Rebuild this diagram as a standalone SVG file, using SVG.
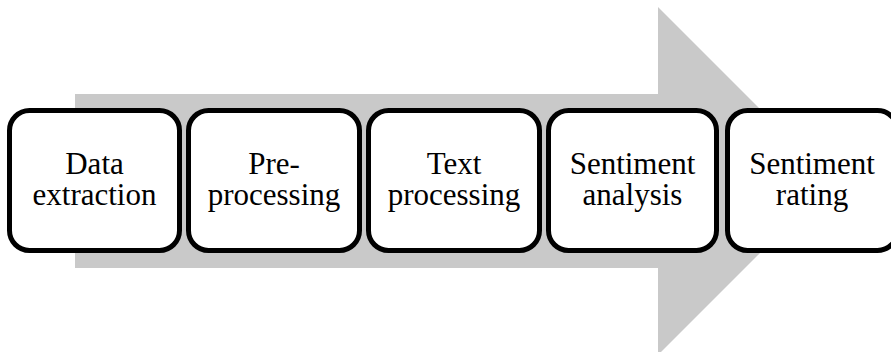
<svg xmlns="http://www.w3.org/2000/svg" width="891" height="352" viewBox="0 0 891 352">
<style>
.box{fill:#fff;stroke:#000;stroke-width:5}
.t{font-family:"Liberation Serif",serif;font-size:31px;fill:#000;text-anchor:middle}
</style>
<rect width="891" height="352" fill="#fff"/>
<g id="arrow">
<path d="M75,94 H658 V7 L832,181 L658,355 V268 H75 Z" fill="#c9c9c9"/>
</g>
<g id="n1"><rect class="box" x="9.5" y="110.5" width="170" height="140" rx="20"/><text class="t" x="94.5" y="174">Data</text><text class="t" x="94.5" y="205">extraction</text></g>
<g id="n2"><rect class="box" x="188.5" y="110.5" width="171" height="140" rx="20"/><text class="t" x="274" y="174">Pre-</text><text class="t" x="274" y="205">processing</text></g>
<g id="n3"><rect class="box" x="368.5" y="110.5" width="171" height="140" rx="20"/><text class="t" x="454" y="174">Text</text><text class="t" x="454" y="205">processing</text></g>
<g id="n4"><rect class="box" x="548.5" y="110.5" width="168" height="140" rx="20"/><text class="t" x="632.5" y="174">Sentiment</text><text class="t" x="632.5" y="205">analysis</text></g>
<g id="n5"><rect class="box" x="727.5" y="110.5" width="170" height="140" rx="20"/><text class="t" x="812" y="174">Sentiment</text><text class="t" x="812" y="205">rating</text></g>
<g id="connectors"></g>
</svg>
